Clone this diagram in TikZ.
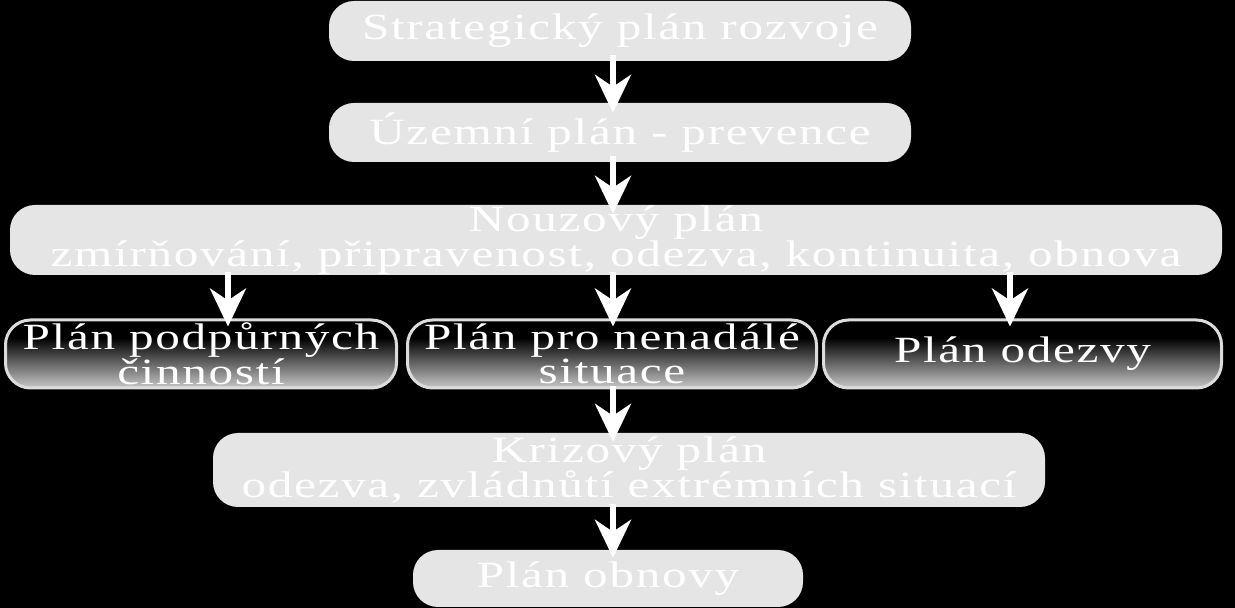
\documentclass[tikz,border=0pt]{standalone}
\usepackage{fontspec}
\newfontfamily\diagfont[FakeStretch=1.33,LetterSpace=4.5]{Liberation Serif}
\usetikzlibrary{arrows.meta}
\definecolor{boxgray}{HTML}{E5E5E5}
\definecolor{rimgray}{HTML}{DCDCDC}
\definecolor{shadelight}{HTML}{C8C8C8}
\pgfdeclareverticalshading{midshade}{100bp}{color(0bp)=(shadelight); color(25bp)=(shadelight); color(62bp)=(black); color(100bp)=(black)}
\begin{document}
\begin{tikzpicture}[x=1pt,y=1pt,
  txt/.style={text=white,font=\diagfont\fontsize{37}{31}\selectfont,align=center,inner sep=0pt},
  lightbox/.style={txt,fill=boxgray,rounded corners=25pt},
  darkbox/.style={txt,shading=midshade,draw=rimgray,line width=3pt,rounded corners=25pt},
  arr/.style={draw=white,line width=6pt,-{Stealth[length=38pt 0 0,width=36pt 0,inset=12pt 0]}}]
\fill[black] (0,0) rectangle (1235,608);
\useasboundingbox (0,0) rectangle (1235,608);
\node[lightbox,minimum width=582pt,minimum height=60pt] (b1) at (620,577) {\raisebox{-2pt}{Strategický plán rozvoje}};
\node[lightbox,minimum width=582pt,minimum height=59pt] (b2) at (620,475.5) {\raisebox{-2pt}{Územní plán - prevence}};
\node[lightbox,minimum width=1212pt,minimum height=70pt] (b3) at (616,368) {Nouzový plán\\zmírňování, připravenost, odezva, kontinuita, obnova};
\node[darkbox,minimum width=391pt,minimum height=68pt] (b4a) at (201,254) {Plán podpůrných\\činností};
\node[darkbox,minimum width=409pt,minimum height=68pt] (b4b) at (612,254) {Plán pro nenadálé\\situace};
\node[darkbox,minimum width=398pt,minimum height=68pt] (b4c) at (1022.5,254) {Plán odezvy};
\node[lightbox,minimum width=832pt,minimum height=74pt] (b5) at (629,138) {Krizový plán\\odezva, zvládnůtí extrémních situací};
\node[lightbox,minimum width=390pt,minimum height=57pt] (b6) at (608,29.5) {Plán obnovy};
\draw[arr] ([xshift=-7pt,yshift=6pt]b1.south) -- ([xshift=-7pt,yshift=-10pt]b2.north);
\draw[arr] ([xshift=-7pt,yshift=6pt]b2.south) -- ([xshift=-3pt,yshift=-9pt]b3.north);
\draw[arr] ([xshift=-388pt,yshift=3pt]b3.south) -- ([xshift=27pt,yshift=-8pt]b4a.north);
\draw[arr] ([xshift=-3pt,yshift=3pt]b3.south) -- ([xshift=1pt,yshift=-8pt]b4b.north);
\draw[arr] ([xshift=394pt,yshift=3pt]b3.south) -- ([xshift=-12.5pt,yshift=-8pt]b4c.north);
\draw[arr] ([xshift=1pt,yshift=3pt]b4b.south) -- ([xshift=-16pt,yshift=-9pt]b5.north);
\draw[arr] ([xshift=-16pt,yshift=3pt]b5.south) -- ([xshift=5pt,yshift=-8pt]b6.north);
\end{tikzpicture}
\end{document}
